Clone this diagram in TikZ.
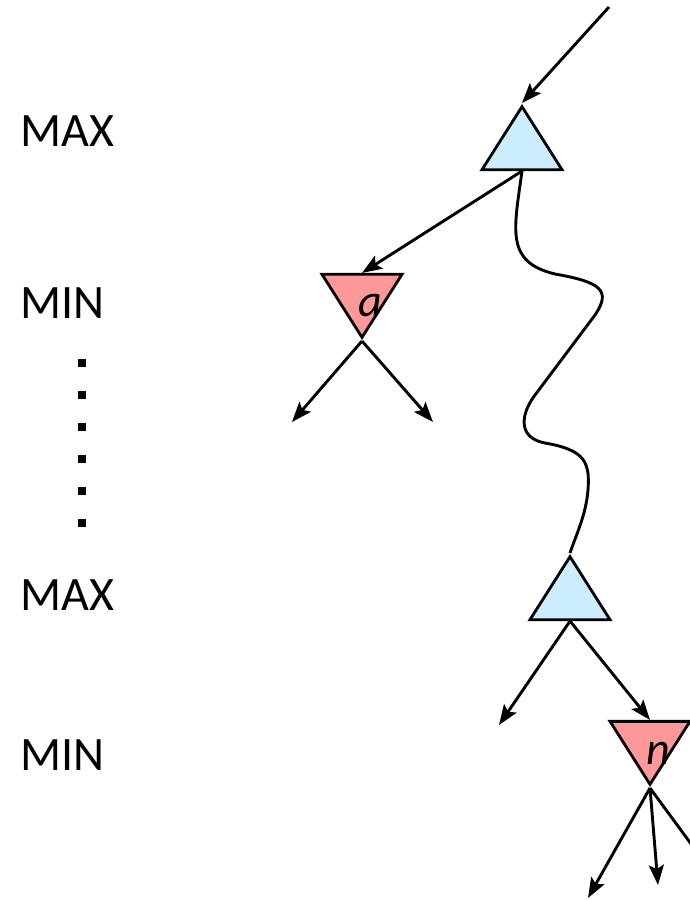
\documentclass[tikz,border=0pt]{standalone}
\usepackage{fontspec}
\setmainfont{Carlito}
\usetikzlibrary{shapes.geometric,arrows.meta}
\definecolor{maxblue}{RGB}{204,236,255}
\definecolor{minred}{RGB}{255,153,153}
\tikzset{
  tri/.style={draw, isosceles triangle, isosceles triangle stretches,
    minimum width=80pt, minimum height=63pt, inner sep=0pt, line width=2.8pt},
  maxtri/.style={tri, fill=maxblue, shape border rotate=90},
  mintri/.style={tri, fill=minred, shape border rotate=-90},
  edge/.style={line width=2.9pt, -{Stealth[length=20pt,width=15pt,inset=4pt]}},
  level/.style={font=\fontsize{48}{56}\selectfont, inner sep=0pt, anchor=base west},
  letter/.style={font=\fontsize{46}{54}\selectfont\itshape, inner sep=0pt, anchor=base}
}
\begin{document}
\begin{tikzpicture}[x=1pt, y=-1pt]
    \useasboundingbox (0,0) rectangle (689,900);
    % level labels
    \node[level] (lmax1) at (20,146) {MAX};
    \node[level] (lmin1) at (20,318) {MIN};
    \node[level] (lmax2) at (20,610) {MAX};
    \node[level] (lmin2) at (20,770) {MIN};
    \foreach \i in {0,...,5}
      \fill (78,{359+32*\i}) rectangle +(8,8);
    % tree
    \node[maxtri, anchor=apex] (max1) at (522,103) {};
    \node[mintri, anchor=apex] (mina) at (362,341) {};
    \node[maxtri, anchor=apex] (max2) at (570,553) {};
    \node[mintri, anchor=apex] (minn) at (650,788) {};
    \node[letter] (la) at (370,316) {a};
    \node[letter] (ln) at (658,764) {n};
    \coordinate (in) at (609,7);
    \coordinate (a1) at (292,422);
    \coordinate (a2) at (433,422);
    \coordinate (b1) at (499,725);
    \coordinate (n1) at (588,898);
    \coordinate (n2) at (658,885);
    \coordinate (n3) at (730,897);
    \draw[edge] (in) -- (max1.apex);
    \draw[edge] (max1.lower side) -- (mina.lower side);
    \draw[edge] (mina.apex) -- (a1);
    \draw[edge] (mina.apex) -- (a2);
    \draw[line width=2.9pt] (max1.lower side)
      .. controls (514,230) and (505,262) .. (555,274)
      .. controls (600,282) and (612,290) .. (595,315)
      -- (535,395)
      .. controls (520,415) and (518,438) .. (545,443)
      .. controls (585,450) and (590,462) .. (588,490)
      .. controls (586,515) and (576,535) .. (max2.apex);
    \draw[edge] (max2.lower side) -- (b1);
    \draw[edge] (max2.lower side) -- (minn.lower side);
    \draw[edge] (minn.apex) -- (n1);
    \draw[edge] (minn.apex) -- (n2);
    \draw[edge] (minn.apex) -- (n3);
\end{tikzpicture}
\end{document}
